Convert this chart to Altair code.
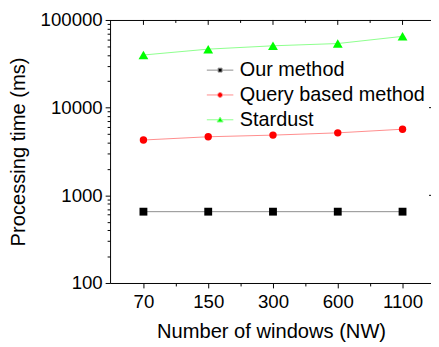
import altair as alt
import pandas as pd

# ---------------- data ----------------
categories = ["70", "150", "300", "600", "1100"]
series_names = ["Our method", "Query based method", "Stardust"]
our_method = [651, 651, 651, 651, 651]
query_based = [4275, 4654, 4862, 5160, 5677]
stardust = [39850, 46500, 50760, 53860, 65030]
y_decades = [100, 1000, 10000, 100000]

# ---------------- styles ----------------
marker_colors = ["#000000", "#ff0000", "#00ff00"]
line_colors = ["#8c8c8c", "#ff8c8c", "#8cff8c"]
marker_shapes = ["square", "circle", "triangle-up"]
marker_sizes = [64, 57, 100]
legend_paths = [
    "M-5.4,0H-0.8M0.8,0H5.4M-0.8,-0.8H0.8V0.8H-0.8Z",
    "M-5.4,0H-1M1,0H5.4M1,0A1,1,0,1,1,-1,0A1,1,0,1,1,1,0Z",
    "M-5.4,0H-0.7M0.7,0H5.4M0,-1.1L1.25,0.9L-1.25,0.9Z",
]

rows = []
for name, vals in zip(series_names, [our_method, query_based, stardust]):
    for i, (c, v) in enumerate(zip(categories, vals)):
        rows.append({"series": name, "idx": i, "cat": c, "value": v})
df = pd.DataFrame(rows)

W, H = 327, 268
FONT = "Liberation Sans"
STEP = 66.0
xdom = [-34 / STEP, (W - 34) / STEP]

x_major = list(range(len(categories)))
x_minor = [i + 0.5 for i in range(len(categories) - 1)]
y_minor = [m * d for d in y_decades[:-1] for m in range(2, 10)]
y_ticks = sorted(y_decades + y_minor)

cat_js = "[" + ",".join(f"'{c}'" for c in categories) + "]"
x_label_expr = f"datum.value % 1 === 0 ? {cat_js}[datum.value] : ''"
dec_js = "[" + ",".join(str(d) for d in y_decades) + "]"
y_label_expr = f"indexof({dec_js}, datum.value) >= 0 ? datum.label : ''"

x_enc = alt.X(
    "idx:Q",
    scale=alt.Scale(domain=xdom, nice=False, zero=False),
    axis=alt.Axis(
        values=x_major + x_minor,
        labelExpr=x_label_expr,
        tickSize={"condition": {"test": "datum.value % 1 !== 0", "value": 3}, "value": 5},
        labelPadding=5,
        labelFontSize=19,
        labelOverlap=False,
        labelFlush=False,
        title="Number of windows (NW)",
        titleX=164,
        titleY=50,
        titleAlign="center",
        titleBaseline="middle",
        titleFontSize=20.5,
    ),
)
y_enc = alt.Y(
    "value:Q",
    scale=alt.Scale(type="log", domain=[100, 100000], nice=False),
    axis=alt.Axis(
        values=y_ticks,
        format="d",
        labelExpr=y_label_expr,
        tickSize={"condition": {"test": f"indexof({dec_js}, datum.value) < 0", "value": 3}, "value": 5},
        labelPadding=3,
        labelFontSize=19,
        labelOverlap=False,
        labelFlush=False,
        title="Processing time (ms)",
        titleX=-93,
        titleY=H / 2,
        titleAlign="center",
        titleBaseline="middle",
        titleFontSize=20.5,
    ),
)

layers = []
# connecting lines (one layer per series)
for name, lc in zip(series_names, line_colors):
    layers.append(
        alt.Chart(df).transform_filter(alt.datum.series == name)
        .mark_line(strokeWidth=1, color=lc)
        .encode(x=x_enc, y=y_enc)
    )
# markers
for name, mc, shp, sz in zip(series_names, marker_colors, marker_shapes, marker_sizes):
    layers.append(
        alt.Chart(df).transform_filter(alt.datum.series == name)
        .mark_point(shape=shp, filled=True, size=sz, opacity=1, strokeWidth=0, color=mc)
        .encode(x=x_enc, y=y_enc)
    )

# legend (invisible layer carrying the legend scales)
legend_obj = alt.Legend(
    orient="none", legendX=102, legendY=41, title=None,
    labelFont=FONT, labelFontSize=20.2, labelColor="black", labelLimit=0,
    labelOffset=10, rowPadding=4.3, padding=0,
    symbolSize=25, symbolStrokeWidth=1, symbolOpacity=1,
)
layers.append(
    alt.Chart(df).mark_point(filled=True, opacity=0, size=25, strokeWidth=1).encode(
        x=x_enc, y=y_enc,
        fill=alt.Fill("series:N", scale=alt.Scale(domain=series_names, range=marker_colors), legend=legend_obj),
        stroke=alt.Stroke("series:N", scale=alt.Scale(domain=series_names, range=line_colors), legend=legend_obj),
        shape=alt.Shape("series:N", scale=alt.Scale(domain=series_names, range=legend_paths), legend=legend_obj),
    )
)

# top frame and inward ticks, right-axis inward ticks
layers.append(
    alt.Chart(pd.DataFrame({"k": [0]})).mark_rule(color="black", strokeWidth=1).encode(
        x=alt.value(0), x2=alt.value(W), y=alt.value(0.5)
    )
)
tick_df = pd.DataFrame({"idx": x_major + x_minor,
                        "major": [True] * len(x_major) + [False] * len(x_minor)})
layers.append(
    alt.Chart(tick_df).transform_filter("datum.major").mark_rule(color="black", strokeWidth=1).encode(
        x=x_enc, y=alt.value(0), y2=alt.value(5)
    )
)
layers.append(
    alt.Chart(tick_df).transform_filter("!datum.major").mark_rule(color="black", strokeWidth=1).encode(
        x=x_enc, y=alt.value(0), y2=alt.value(3)
    )
)
layers.append(
    alt.Chart(pd.DataFrame({"value": y_decades[1:-1]})).mark_rule(color="black", strokeWidth=1).encode(
        y=y_enc, x=alt.value(W - 2), x2=alt.value(W)
    )
)

chart = alt.layer(*layers).properties(
    width=W, height=H,
    padding={"left": 104, "top": 9, "right": 0, "bottom": 62},
    autosize=alt.AutoSizeParams(type="none"),
).configure_view(stroke=None).configure_axis(
    grid=False,
    domainColor="black", tickColor="black", labelColor="black", titleColor="black",
    domainWidth=1, tickWidth=1,
    labelFont=FONT, titleFont=FONT, titleFontWeight="normal",
)

chart.save("out.html", embed_options={"renderer": "svg", "actions": False})
